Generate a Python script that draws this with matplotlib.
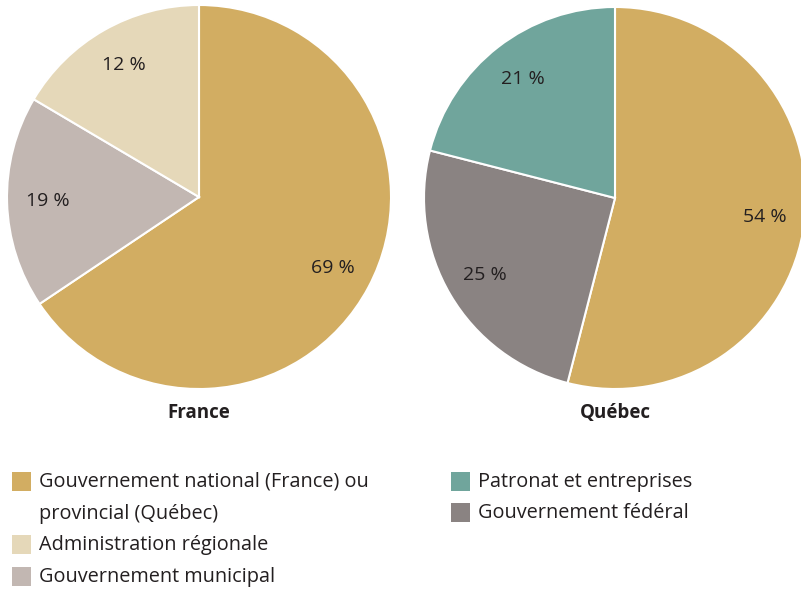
import matplotlib.pyplot as plt
from matplotlib.patches import Rectangle

plt.rcParams['font.family'] = ['Open Sans', 'DejaVu Sans']

# France: wedge sizes as drawn (clockwise from 12 o'clock) and printed labels
france_sizes = [65.6, 17.9, 16.5]
france_labels = ['69 %', '19 %', '12 %']
france_colors = ['#D2AD62', '#C2B7B2', '#E5D8B9']

# Québec
quebec_sizes = [54, 25, 21]
quebec_labels = ['54 %', '25 %', '21 %']
quebec_colors = ['#D2AD62', '#8A8382', '#70A59C']

legend_labels = ['Gouvernement national (France) ou\nprovincial (Québec)',
                 'Administration régionale',
                 'Gouvernement municipal',
                 'Patronat et entreprises',
                 'Gouvernement fédéral']
legend_colors = ['#D2AD62', '#E5D8B9', '#C2B7B2', '#70A59C', '#8A8382']

txt = '#231F20'
W, H = 801, 589
fig = plt.figure(figsize=(W / 100, H / 100), dpi=100)


def px_axes(cx, cy, r):
    return fig.add_axes([(cx - r) / W, (H - cy - r) / H, 2 * r / W, 2 * r / H])


def draw_pie(ax, sizes, labels, colors, title):
    wedges, texts = ax.pie(sizes, labels=labels, colors=colors, startangle=90,
                           counterclock=False, labeldistance=0.79,
                           wedgeprops=dict(edgecolor='white', linewidth=1.5),
                           textprops=dict(fontsize=14, color=txt))
    for t in texts:
        t.set_horizontalalignment('center')
        t.set_verticalalignment('center')
    ax.set_xlim(-1, 1)
    ax.set_ylim(-1, 1)
    ax.set_aspect('equal')
    ax.set_xlabel(title, fontsize=13.5, fontweight='bold', color=txt, labelpad=10)
    ax.set_xticks([])
    ax.set_yticks([])
    for s in ax.spines.values():
        s.set_visible(False)
    ax.patch.set_visible(False)


ax1 = px_axes(199, 197, 192)
draw_pie(ax1, france_sizes, france_labels, france_colors, 'France')
ax2 = px_axes(615, 198, 191)
draw_pie(ax2, quebec_sizes, quebec_labels, quebec_colors, 'Québec')

# legend drawn by hand: two columns
left_rows = [481, 544, 576]
right_rows = [481, 512]
positions = [(12, y) for y in left_rows] + [(451, y) for y in right_rows]
for (x, y), lab, col in zip(positions, legend_labels, legend_colors):
    fig.add_artist(Rectangle((x / W, (H - y - 9.5) / H), 19 / W, 19 / H,
                             transform=fig.transFigure, facecolor=col, edgecolor='none'))
    for i, line in enumerate(lab.split('\n')):
        fig.text((x + 27) / W, (H - y - 32 * i - 1) / H, line, fontsize=14.3,
                 color=txt, va='center', ha='left')

fig.savefig('out.png', dpi=100)
